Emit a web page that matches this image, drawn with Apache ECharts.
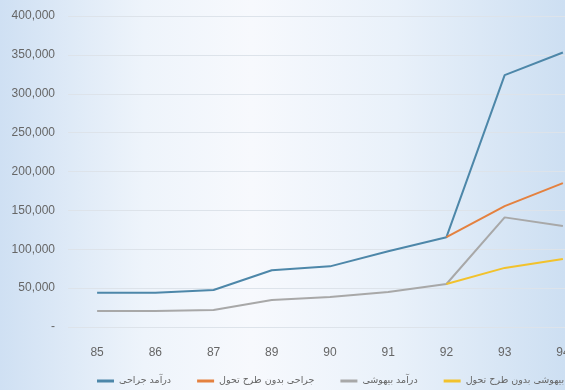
<!DOCTYPE html>
<html>
<head>
<meta charset="utf-8">
<script src="https://cdn.jsdelivr.net/npm/echarts@6/dist/echarts.min.js"></script>
<style>
  html, body { margin: 0; padding: 0; overflow: hidden; width: 565px; height: 390px; }
  #chart {
    width: 600px; height: 390px;
    background: linear-gradient(to right, #cfe0f3 0%, #eef4fb 24%, #f7f9fd 42%, #e9f1fa 66%, #cddff2 94%);
  }
</style>
</head>
<body>
<div id="chart"></div>
<script>
var years = ['85', '86', '87', '89', '90', '91', '92', '93', '94'];
var seriesNames = ['درآمد جراحی', 'جراحی بدون طرح تحول', 'درآمد بیهوشی', 'بیهوشی بدون طرح تحول'];
var surgeryIncome = [44000, 44000, 47500, 73000, 78000, 97500, 115500, 324000, 353000];
var surgeryNoPlan = [null, null, null, null, null, null, 115500, 155500, 185000];
var anesthesiaIncome = [20500, 20500, 22000, 34700, 38500, 45000, 55300, 141000, 130000];
var anesthesiaNoPlan = [null, null, null, null, null, null, 55300, 76000, 87500];
var colors = ['#4d87a9', '#e4813f', '#a8a8a8', '#f2c22c'];

var chart = echarts.init(document.getElementById('chart'));

function line(name, data, color) {
  return {
    name: name,
    type: 'line',
    data: data,
    symbol: 'none',
    lineStyle: { width: 2, color: color },
    itemStyle: { color: color }
  };
}

chart.setOption({
  animation: false,
  textStyle: { fontFamily: 'DejaVu Sans, sans-serif' },
  grid: { left: 68, top: 16, right: 8, bottom: 63 },
  legend: {
    left: 92, top: 371, width: 800,
    itemWidth: 17, itemHeight: 3, itemGap: 26,
    icon: 'rect',
    textStyle: { color: '#666', fontSize: 9.5, fontFamily: 'DejaVu Sans' },
    data: seriesNames
  },
  xAxis: {
    type: 'category',
    data: years,
    axisLine: { show: false },
    axisTick: { show: false },
    axisLabel: { color: '#666', fontSize: 12, margin: 20, fontFamily: 'Liberation Sans' }
  },
  yAxis: {
    type: 'value',
    min: 0, max: 400000, interval: 50000,
    axisLabel: {
      color: '#666', fontSize: 12, margin: 13, fontFamily: 'Liberation Sans',
      formatter: function (v) { return v === 0 ? '-' : v.toLocaleString('en-US'); }
    },
    splitLine: { lineStyle: { color: '#dde3ea', width: 1 } }
  },
  series: [
    line(seriesNames[0], surgeryIncome, colors[0]),
    line(seriesNames[1], surgeryNoPlan, colors[1]),
    line(seriesNames[2], anesthesiaIncome, colors[2]),
    line(seriesNames[3], anesthesiaNoPlan, colors[3])
  ]
});
</script>
</body>
</html>
